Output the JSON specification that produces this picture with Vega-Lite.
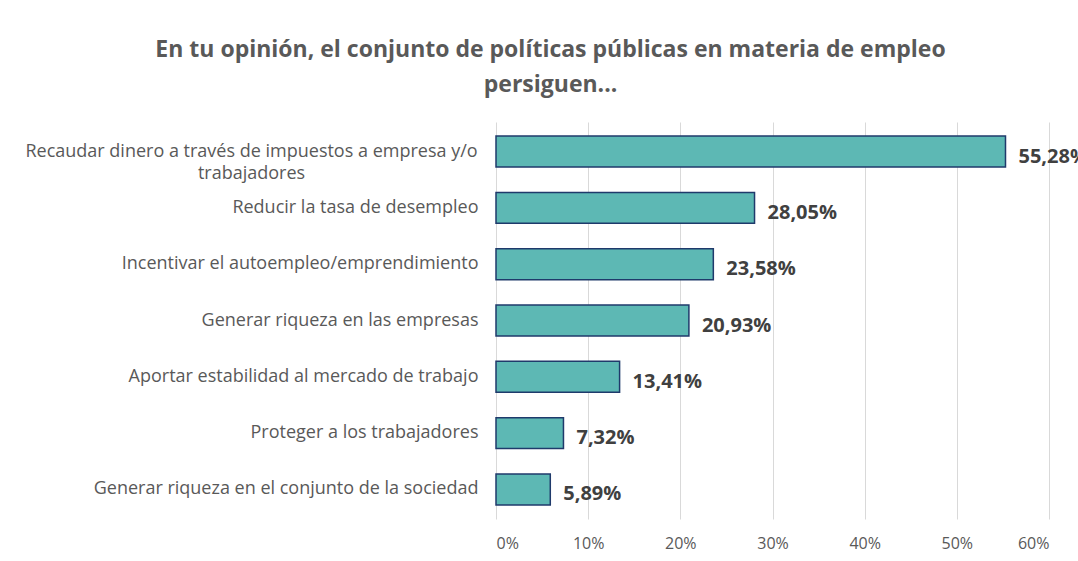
{
  "$schema": "https://vega.github.io/schema/vega-lite/v6.json",
  "width": 553,
  "height": 397,
  "autosize": {"type": "none"},
  "padding": {"left": 496, "top": 122, "right": 29, "bottom": 42},
  "background": "white",
  "title": {
    "text": ["En tu opinión, el conjunto de políticas públicas en materia de empleo", "persiguen..."],
    "font": "Open Sans",
    "fontSize": 23,
    "fontWeight": "bold",
    "color": "#595959",
    "anchor": "middle",
    "dx": -222,
    "offset": 25,
    "lineHeight": 35
  },
  "config": {
    "locale": {"number": {"decimal": ",", "thousands": ".", "grouping": [3], "currency": ["", " €"]}},
    "view": {"stroke": null}
  },
  "data": {
    "values": [
      {"categoria": "Recaudar dinero a través de impuestos a empresa y/o trabajadores", "valor": 0.5528},
      {"categoria": "Reducir la tasa de desempleo", "valor": 0.2805},
      {"categoria": "Incentivar el autoempleo/emprendimiento", "valor": 0.2358},
      {"categoria": "Generar riqueza en las empresas", "valor": 0.2093},
      {"categoria": "Aportar estabilidad al mercado de trabajo", "valor": 0.1341},
      {"categoria": "Proteger a los trabajadores", "valor": 0.0732},
      {"categoria": "Generar riqueza en el conjunto de la sociedad", "valor": 0.0589}
    ]
  },
  "encoding": {
    "y": {
      "field": "categoria",
      "type": "nominal",
      "sort": null,
      "scale": {"paddingInner": 0.45, "paddingOuter": 0.25},
      "axis": {
        "title": null,
        "domain": false,
        "ticks": false,
        "labelFont": "Open Sans",
        "labelFontSize": 18,
        "labelColor": "#595959",
        "labelLimit": 700,
        "labelExpr": "datum.value == 'Recaudar dinero a través de impuestos a empresa y/o trabajadores' ? ['Recaudar dinero a través de impuestos a empresa y/o', 'trabajadores'] : datum.value",
        "labelAlign": {"condition": {"test": "indexof(datum.value, 'Recaudar') == 0", "value": "center"}, "value": "right"},
        "labelPadding": {"condition": {"test": "indexof(datum.value, 'Recaudar') == 0", "value": 245}, "value": 18},
        "labelLineHeight": 22,
        "minExtent": 490,
        "maxExtent": 490
      }
    },
    "x": {
      "field": "valor",
      "type": "quantitative",
      "scale": {"domain": [0, 0.6], "nice": false},
      "axis": {
        "title": null,
        "format": ".0%",
        "values": [0, 0.1, 0.2, 0.3, 0.4, 0.5, 0.6],
        "domain": false,
        "ticks": false,
        "grid": true,
        "gridColor": "#D9D9D9",
        "gridWidth": 1,
        "labelFont": "Open Sans",
        "labelFontSize": 16,
        "labelColor": "#595959",
        "labelPadding": 16
      }
    }
  },
  "layer": [
    {
      "mark": {"type": "bar", "fill": "#5DB8B4", "stroke": "#1F3A6B", "strokeWidth": 1.5}
    },
    {
      "mark": {"type": "text", "align": "left", "baseline": "middle", "dx": 13, "dy": 5, "font": "Open Sans", "fontSize": 20, "fontWeight": "bold", "color": "#404040"},
      "encoding": {
        "text": {"field": "valor", "type": "quantitative", "format": ".2%"}
      }
    }
  ]
}
